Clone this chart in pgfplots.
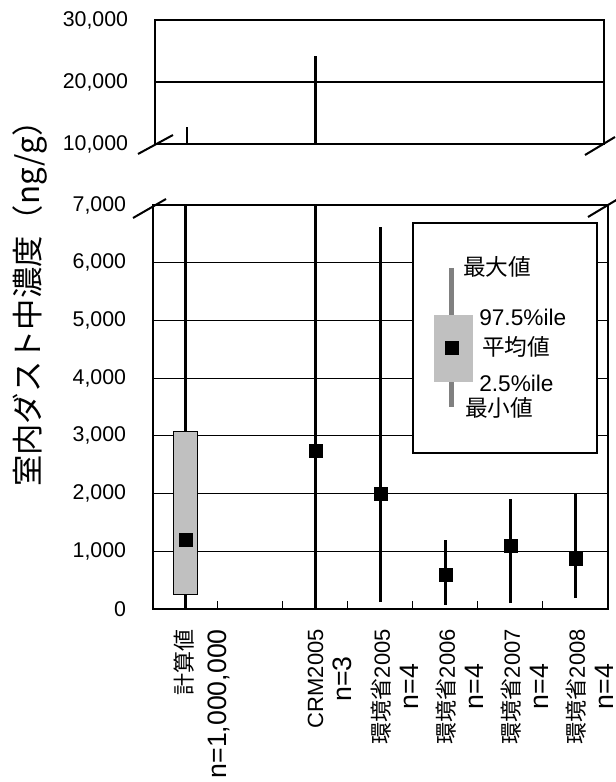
\documentclass[border=0pt]{standalone}
\usepackage{fontspec}
\setmainfont{Liberation Sans}
\newfontfamily\jp{Noto Sans CJK JP}
\usepackage{pgfplots}
\pgfplotsset{compat=1.18}
\usepackage{pgfplotstable}

\definecolor{boxgray}{HTML}{C0C0C0}
\definecolor{whiskgray}{HTML}{808080}

% whiskers: min to max per slot (slot 1 is empty)
\pgfplotstableread{
x y
0 0
0 12700
0 nan
2 0
2 24200
2 nan
3 120
3 6620
3 nan
4 70
4 1200
4 nan
5 100
5 1900
5 nan
6 190
6 2000
}\whiskers

% mean values
\pgfplotstableread{
x mean
0 1200
2 2740
3 2000
4 600
5 1100
6 870
}\means

% two-line category label: [alignment]{first line}{second line}[extra gap]
\newcommand\lab[4][c]{\begin{tabular}{@{}#1@{}}\fontsize{16.5}{20}\selectfont #2\\[#4]\fontsize{20}{24}\selectfont #3\end{tabular}}

\pgfplotsset{
  panel/.style={
    scale only axis, anchor=south west,
    xmin=-0.5, xmax=6.5,
    axis line style={line width=1.5pt},
    ymajorgrids, grid style={black, line width=0.9pt},
    major tick length=0pt,
    scaled y ticks=false,
    yticklabel style={font=\fontsize{16}{19}\selectfont, anchor=east, inner sep=0pt, xshift=-20pt,
      /pgf/number format/assume math mode=true, /pgf/number format/1000 sep={,}},
  },
  whisk/.style={black, line width=2pt, mark=none, unbounded coords=jump},
}

\begin{document}
\begin{tikzpicture}
\path[use as bounding box] (0,0) rectangle (461.25pt,586.5pt);

% lower panel 0 - 7,000
\begin{axis}[panel, at={(114.75pt,129.75pt)}, width=341.25pt, height=303pt,
  ymin=0, ymax=7000, ytick={0,1000,...,7000},
  xtick={0,2,3,4,5,6},
  xticklabels={{\lab[r]{{\jp 計算値}}{n=1,000,000}{8pt}},{\lab{CRM2005}{n=3}{4pt}},{\lab{{\jp 環境省}2005}{n=4}{4pt}},{\lab{{\jp 環境省}2006}{n=4}{4pt}},{\lab{{\jp 環境省}2007}{n=4}{4pt}},{\lab{{\jp 環境省}2008}{n=4}{4pt}}},
  minor xtick={0.5,1.5,2.5,3.5,4.5,5.5},
  minor tick length=6pt, tick align=inside, xtick pos=left,
  minor tick style={black, line width=0.75pt},
  xticklabel style={inner sep=0pt, xshift=12.5pt, yshift=-15pt, rotate=90, anchor=east},
]
\addplot[whisk] table {\whiskers};
\addplot[fill=boxgray, draw=black, line width=0.75pt] coordinates {(-0.185,250) (0.185,250) (0.185,3080) (-0.185,3080)} -- cycle;
\addplot[only marks, mark=square*, mark size=4.8pt, black] table[x=x, y=mean] {\means};
\end{axis}

% upper panel 10,000 - 30,000
\begin{axis}[panel, at={(116.25pt,478.5pt)}, width=336.75pt, height=93pt,
  ymin=10000, ymax=30000, ytick={10000,20000,30000}, xtick=\empty]
\addplot[whisk] table {\whiskers};
\end{axis}

\begin{scope}[x=0.75pt, y=-0.75pt, shift={(0pt,586.5pt)}]
% axis break marks
\draw[line width=1.5pt] (138,154) -- (173,135);
\draw[line width=1.5pt] (133,218) -- (166,199);
\draw[line width=1.5pt] (585,155) -- (615,137);
\draw[line width=1.5pt] (588,217) -- (618,199);
% y label
\node[rotate=90, font=\jp\fontsize{23.5}{28}\selectfont] at (30,296) {室内ダスト中濃度（ng/g）};
% legend
\draw[line width=1.5pt, fill=white] (413,223) rectangle (597,453);
\draw[whiskgray, line width=3.75pt] (451,268) -- (451,407);
\fill[boxgray] (434,315) rectangle (473,382);
\fill[black] (445,341) rectangle (459,355);
\begin{scope}[every node/.style={anchor=west, inner sep=0pt, font=\fontsize{17}{20}\selectfont}]
\node at (463,267) {\jp 最大値};
\node at (479,317) {97.5\%ile};
\node at (482,347) {\jp 平均値};
\node at (479,383) {2.5\%ile};
\node at (465,408) {\jp 最小値};
\end{scope}
\end{scope}
\end{tikzpicture}
\end{document}
